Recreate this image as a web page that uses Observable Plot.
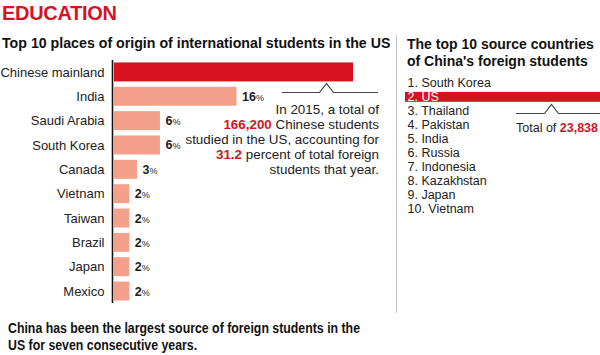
<!DOCTYPE html>
<html><head><meta charset="utf-8">
<script src="https://cdn.jsdelivr.net/npm/d3@7"></script>
<script src="https://cdn.jsdelivr.net/npm/@observablehq/plot@0.6"></script>
<style>
html,body{margin:0;padding:0;background:#fff;}
#root{position:relative;width:600px;height:355px;overflow:hidden;font-family:"Liberation Sans",Arial,sans-serif;color:#222;}
.abs{position:absolute;white-space:nowrap;}
#kicker{left:2px;top:2px;font-size:20px;font-weight:bold;color:#d6131f;letter-spacing:-0.3px;}
#sub{left:2px;top:35px;font-size:14.2px;font-weight:bold;color:#111;}
#rtitle{left:407px;top:36px;font-size:14px;font-weight:bold;color:#111;line-height:17px;}
#note{left:150px;width:229px;top:102px;text-align:right;font-size:13.4px;line-height:15px;color:#222;}
#total{left:516px;top:121px;font-size:12.5px;color:#222;}
.red{color:#d6131f;font-weight:bold;}
#foot{left:8px;top:320px;font-size:14.5px;font-weight:bold;line-height:17px;color:#111;transform:scaleX(0.85);transform-origin:0 0;}
#sep{left:396px;top:35px;width:1px;height:278px;background:#c8c8c8;}
#left{left:0;top:55px;}
#right{left:400px;top:76px;}
#deco{left:0;top:0;pointer-events:none;}
</style></head>
<body>
<div id="root">
  <div id="kicker" class="abs">EDUCATION</div>
  <div id="sub" class="abs">Top 10 places of origin of international students in the US</div>
  <div id="rtitle" class="abs">The top 10 source countries<br>of China's foreign students</div>
  <div id="sep" class="abs"></div>
  <div id="left" class="abs"></div>
  <div id="right" class="abs"></div>
  <div id="note" class="abs">In 2015, a total of<br><span class="red">166,200</span> Chinese students<br>studied in the US, accounting for<br><span class="red">31.2</span> percent of total foreign<br>students that year.</div>
  <div id="total" class="abs">Total of <span class="red">23,838</span></div>
  <div id="foot" class="abs">China has been the largest source of foreign students in the<br>US for seven consecutive years.</div>
</div>
<script>
// ---- data ----
const origins = ["Chinese mainland","India","Saudi Arabia","South Korea","Canada","Vietnam","Taiwan","Brazil","Japan","Mexico"];
const shares = [31.2, 16, 6, 6, 3, 2, 2, 2, 2, 2];
const shareLabels = ["", "16", "6", "6", "3", "2", "2", "2", "2", "2"];
const highlightOrigin = "Chinese mainland";

const sourceRanks = [1,2,3,4,5,6,7,8,9,10];
const sources = ["South Korea","US","Thailand","Pakistan","India","Russia","Indonesia","Kazakhstan","Japan","Vietnam"];
const highlightSource = "US";

const RED = "#d6131f", SALMON = "#f5a08b";

// ---- left bar chart ----
const rows = origins.map((o, i) => ({origin: o, share: shares[i], label: shareLabels[i]}));
const left = Plot.plot({
  width: 400, height: 255,
  marginLeft: 114, marginRight: 0, marginTop: 5, marginBottom: 7,
  style: {fontFamily: '"Liberation Sans", Arial, sans-serif', fontSize: "13px", color: "#222", background: "transparent"},
  x: {domain: [0, 286 / 7.66], axis: null},
  y: {domain: origins, paddingInner: 0.22, paddingOuter: 0.1, round: false, label: null, tickSize: 0, tickPadding: 10},
  marks: [
    Plot.barX(rows, {y: "origin", x: "share", fill: d => d.origin === highlightOrigin ? RED : SALMON}),
    Plot.ruleX([0], {stroke: "#111", strokeWidth: 1.6, dx: -2}),
    Plot.text(rows.filter(d => d.label), {y: "origin", x: "share", text: "label", dx: 5, textAnchor: "start",
      fontWeight: "bold", fontSize: 12.5, fill: "#222", className: "vlab"})
  ]
});
d3.select(left).selectAll(".vlab text").each(function() {
  const t = this.textContent;
  const s = d3.select(this); s.text("");
  s.append("tspan").text(t);
  s.append("tspan").attr("font-size", 9).attr("font-weight", "normal").text("%");
});
document.getElementById("left").appendChild(left);

// ---- right ranked list ----
const list = sources.map((s, i) => ({rank: sourceRanks[i], name: s, text: sourceRanks[i] + ". " + s}));
const right = Plot.plot({
  width: 200, height: 139,
  marginLeft: 0, marginRight: 0, marginTop: 0, marginBottom: 0,
  style: {fontFamily: '"Liberation Sans", Arial, sans-serif', fontSize: "12.5px", background: "transparent"},
  x: {domain: [0, 1], axis: null},
  y: {domain: sourceRanks, padding: 0, round: false, axis: null},
  marks: [
    Plot.barX(list.filter(d => d.name === highlightSource), {y: "rank", x: 1, fill: RED, insetLeft: 5, insetTop: 2, insetBottom: 2}),
    Plot.text(list, {y: "rank", x: 0, text: "text", dx: 7, textAnchor: "start", fontSize: 12.5,
      fill: d => d.name === highlightSource ? "#fff" : "#222",
      fontWeight: d => d.name === highlightSource ? "bold" : "normal"})
  ]
});
document.getElementById("right").appendChild(right);

// ---- caret connector decorations ----
const deco = d3.select("#root").append("svg").attr("id", "deco").attr("class", "abs")
  .attr("width", 600).attr("height", 355).style("position", "absolute");
const caret = (x1, xc, x2, y) => `M${x1},${y}H${xc-7}L${xc},${y-9}L${xc+7},${y}H${x2}`;
deco.append("path").attr("d", caret(282, 326.5, 378, 92.5)).attr("fill", "none").attr("stroke", "#444").attr("stroke-width", 1.2);
deco.append("path").attr("d", caret(516, 551.5, 600, 113.5)).attr("fill", "none").attr("stroke", "#444").attr("stroke-width", 1.2);
</script>
</body></html>
